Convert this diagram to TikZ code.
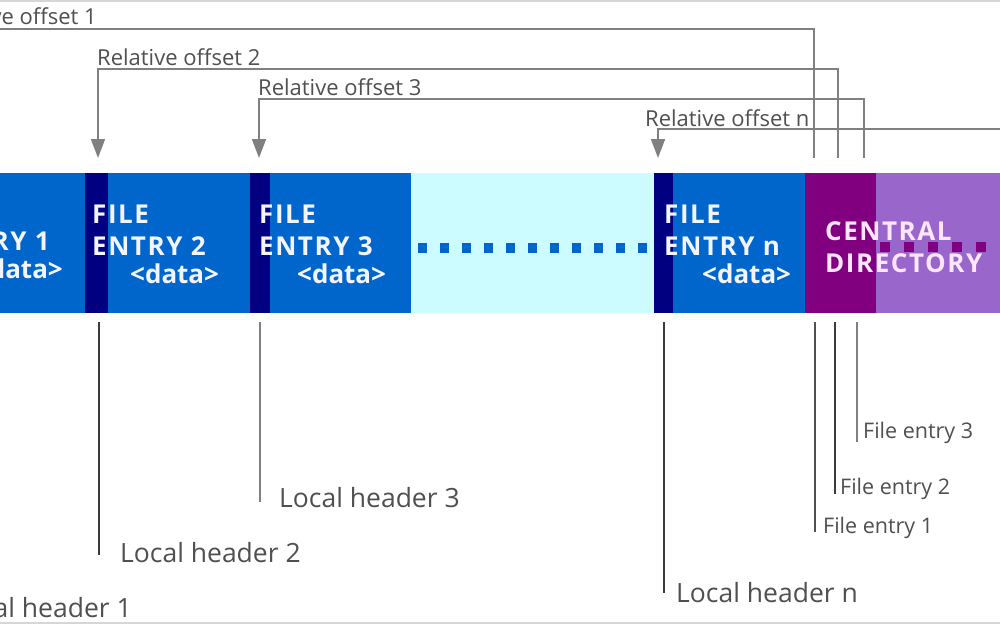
\documentclass[tikz,border=0pt]{standalone}
\usepackage{fontspec}
\setmainfont{Open Sans}
\usetikzlibrary{arrows.meta}
\definecolor{entryblue}{HTML}{0066CC}
\definecolor{hdrnavy}{HTML}{000080}
\definecolor{gapcyan}{HTML}{CCFCFF}
\definecolor{cdpurple}{HTML}{800080}
\definecolor{cdlight}{HTML}{9966CC}
\definecolor{boxtext}{HTML}{F4F4FF}
\definecolor{cdtext}{HTML}{FFE6FF}
\definecolor{labelgray}{HTML}{505050}
\definecolor{linegray}{HTML}{808080}
\definecolor{tickgray}{HTML}{3C3C3C}
\definecolor{framegray}{HTML}{D6D6D6}
\begin{document}
\begin{tikzpicture}[x=1pt,y=-1pt,
  seg/.style={rectangle, inner sep=0pt, outer sep=0pt, minimum height=140pt, anchor=north west, draw=none},
  btxt/.style={inner sep=0pt, text=boxtext, font=\fontsize{26}{30}\selectfont\bfseries, anchor=base west},
  capt/.style={btxt, font=\fontsize{26}{30}\selectfont\bfseries\addfontfeature{LetterSpace=6}},
  ctxt/.style={capt, text=cdtext},
  lbl/.style={inner sep=0pt, text=labelgray, font=\fontsize{26.5}{30}\selectfont, anchor=base west},
  slbl/.style={inner sep=0pt, text=labelgray, font=\fontsize{22}{25}\selectfont, anchor=base west},
  flbl/.style={slbl, font=\fontsize{21.5}{25}\selectfont},
  offline/.style={draw=linegray, line width=1.6pt},
  arr/.style={offline, -{Triangle[width=14pt,length=19pt]}},
  tick/.style={draw=tickgray, line width=1.5pt}]
\useasboundingbox (0,0) rectangle (1000,625);
\clip (0,0) rectangle (1000,625);
\fill[white] (0,0) rectangle (1000,625);
% frame lines of the page
\draw[framegray, line width=2.5pt] (0,1) -- (1000,1);
\draw[framegray, line width=2.5pt] (0,623) -- (1000,623);
% bar segments
\node[seg, fill=entryblue, minimum width=185pt] (e1) at (-100,173) {};
\node[seg, fill=hdrnavy, minimum width=23pt] (h2) at (85,173) {};
\node[seg, fill=entryblue, minimum width=142pt] (e2) at (108,173) {};
\node[seg, fill=hdrnavy, minimum width=20pt] (h3) at (250,173) {};
\node[seg, fill=entryblue, minimum width=141pt] (e3) at (270,173) {};
\node[seg, fill=gapcyan, minimum width=243pt] (gap) at (411,173) {};
\node[seg, fill=hdrnavy, minimum width=19pt] (hn) at (654,173) {};
\node[seg, fill=entryblue, minimum width=132pt] (en) at (673,173) {};
\node[seg, fill=cdpurple, minimum width=71pt] (cd1) at (805,173) {};
\node[seg, fill=cdlight, minimum width=140pt] (cd2) at (876,173) {};
% dotted fillers
\draw[entryblue, line width=10pt, dash pattern=on 9pt off 13pt] (418,248) -- (652,248);
\draw[cdpurple, line width=10pt, dash pattern=on 10pt off 14pt] (880,247) -- (1010,247);
% box texts
\node[capt, anchor=base east] (t1b) at (50,250) {ENTRY 1};
\node[btxt, anchor=base east] (t1c) at (63,278) {<data>};
\node[capt] (t2a) at (92,223) {FILE};
\node[capt] (t2b) at (92,255) {ENTRY 2};
\node[btxt] (t2c) at (130,283) {<data>};
\node[capt] (t3a) at (259,223) {FILE};
\node[capt] (t3b) at (259,255) {ENTRY 3};
\node[btxt] (t3c) at (297,283) {<data>};
\node[capt] (tna) at (664,223) {FILE};
\node[capt] (tnb) at (664,255) {ENTRY n};
\node[btxt] (tnc) at (702,283) {<data>};
\node[ctxt] (cda) at (825,240) {CENTRAL};
\node[ctxt] (cdb) at (825,272) {DIRECTORY};
% relative offset connectors
\coordinate (cdA) at (814,158);
\coordinate (cdB) at (838,158);
\coordinate (cdC) at (864,158);
\coordinate (in1) at (-70,158);
\coordinate (in2) at (98,158);
\coordinate (in3) at (259,158);
\coordinate (inN) at (658,158);
\coordinate (offN) at (1100,129);
\draw[arr] (cdA) -- (cdA |- 0,29) -| (in1);
\draw[arr] (cdB) -- (cdB |- 0,69) -| (in2);
\draw[arr] (cdC) -- (cdC |- 0,99) -| (in3);
\draw[arr] (offN) -| (inN);
\node[slbl, anchor=base east] (ro1) at (97,24) {Relative offset 1};
\node[slbl] (ro2) at (97,65) {Relative offset 2};
\node[slbl] (ro3) at (258,95) {Relative offset 3};
\node[slbl] (ron) at (645,126) {Relative offset n};
% local header ticks
\coordinate (b1) at (-70,322);
\coordinate (b2) at (99,322);
\coordinate (b3) at (260,322);
\coordinate (bn) at (664,322);
\coordinate (f1) at (815,322);
\coordinate (f2) at (835,322);
\coordinate (f3) at (857,322);
\draw[tick] (b1) -- ++(0,290);
\draw[tick] (b2) -- ++(0,233);
\draw[tick, draw=linegray] (b3) -- ++(0,180);
\draw[tick] (bn) -- ++(0,271);
\draw[tick, draw=labelgray] (f1) -- ++(0,210);
\draw[tick] (f2) -- ++(0,172);
\draw[tick, draw=linegray] (f3) -- ++(0,120);
\node[lbl, anchor=base east] (lh1) at (132,617) {Local header 1};
\node[lbl] (lh2) at (120,562) {Local header 2};
\node[lbl] (lh3) at (279,507) {Local header 3};
\node[lbl] (lhn) at (676,602) {Local header n};
\node[flbl] (fe1) at (823,533) {File entry 1};
\node[flbl] (fe2) at (840,494) {File entry 2};
\node[flbl] (fe3) at (863,438) {File entry 3};
\end{tikzpicture}
\end{document}
